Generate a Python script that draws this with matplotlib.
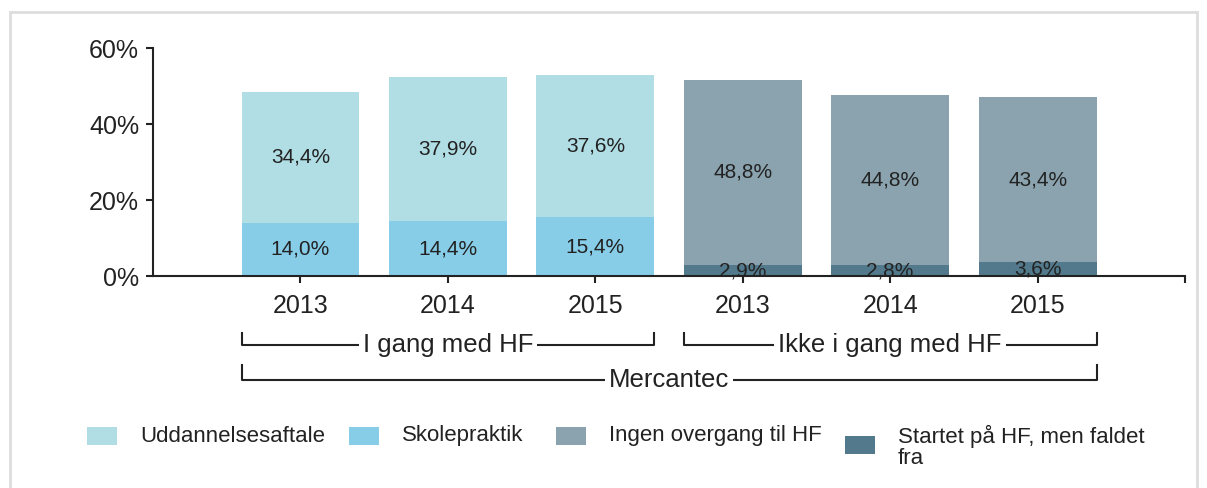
import numpy as np
import matplotlib
matplotlib.use('Agg')
import matplotlib.pyplot as plt
from matplotlib.patches import Rectangle
import matplotlib.transforms as mtransforms

plt.rcParams['font.family'] = ['Liberation Sans', 'DejaVu Sans']

years = ['2013', '2014', '2015', '2013', '2014', '2015']
groups = ['I gang med HF', 'Ikke i gang med HF']
total_label = 'Mercantec'

# segment values (%) per bar, bottom to top
skolepraktik = [14.0, 14.4, 15.4, 0, 0, 0]
uddannelse = [34.4, 37.9, 37.6, 0, 0, 0]
faldet_fra = [0, 0, 0, 2.9, 2.8, 3.6]
ingen = [0, 0, 0, 48.8, 44.8, 43.4]

series = [
    ('Uddannelsesaftale', uddannelse, '#B0DEE4'),
    ('Skolepraktik', skolepraktik, '#87CDE8'),
    ('Ingen overgang til HF', ingen, '#8AA3AE'),
    ('Startet på HF, men faldet\nfra', faldet_fra, '#527A8C'),
]

fig = plt.figure(figsize=(12.07, 4.88), dpi=100)
ax = fig.add_axes([0.1268, 0.4344, 0.855, 0.4672])

x = np.arange(len(years))
w = 0.8
# stacking order: Skolepraktik under Uddannelsesaftale, faldet under Ingen
stack = [(skolepraktik, '#87CDE8'), (uddannelse, '#B0DEE4'),
         (faldet_fra, '#527A8C'), (ingen, '#8AA3AE')]
bottom = np.zeros(len(years))
for vals, col in stack:
    vals = np.array(vals)
    ax.bar(x, vals, w, bottom=bottom, color=col, linewidth=0)
    for xi, v, b in zip(x, vals, bottom):
        if v > 0:
            ax.text(xi, b + v / 2, f'{v:.1f}%'.replace('.', ','),
                    ha='center', va='center', fontsize=15, color='#222222')
    bottom += vals

ax.set_xlim(-1, 6)
ax.set_ylim(0, 60)
ax.set_yticks([0, 20, 40, 60])
ax.set_yticklabels(['0%', '20%', '40%', '60%'], fontsize=18, color='#222222')
ax.set_xticks(x)
ax.set_xticks([6], minor=True)
ax.set_xticklabels(years, fontsize=18, color='#222222')
ax.tick_params(axis='both', which='both', direction='out', length=5, width=1.5,
               colors='#222222')
ax.tick_params(axis='x', pad=8)
ax.tick_params(axis='y', pad=5)
for s in ['top', 'right']:
    ax.spines[s].set_visible(False)
for s in ['left', 'bottom']:
    ax.spines[s].set_linewidth(1.5)
    ax.spines[s].set_color('#222222')

# group brackets
trans = mtransforms.blended_transform_factory(ax.transData, ax.transAxes)

def bracket(x0, x1, ytop, ybot, label, tx):
    ax.plot([x0, x0, x1, x1], [ytop, ybot, ybot, ytop], color='#222222',
            lw=1.5, transform=trans, clip_on=False)
    ax.text(tx, ybot, label, ha='center', va='center', fontsize=18.5,
            color='#222222', transform=trans,
            bbox=dict(facecolor='white', edgecolor='none', pad=3))

bracket(x[0] - w / 2, x[2] + w / 2, -0.25, -0.303, groups[0], x[1])
bracket(x[3] - w / 2, x[5] + w / 2, -0.25, -0.303, groups[1], x[4])
bracket(x[0] - w / 2, x[5] + w / 2, -0.39, -0.456, total_label, 2.5)

# legend drawn by hand
leg_x = [87, 349, 556, 845]
for (name, vals, col), lx in zip(series, leg_x):
    two = '\n' in name
    sy = 445 if two else 436
    fig.add_artist(Rectangle((lx / 1207, 1 - (sy + 9) / 488), 30 / 1207, 18 / 488,
                             transform=fig.transFigure, facecolor=col, edgecolor='none'))
    fig.text((lx + 53) / 1207, 1 - 436 / 488 if not two else 1 - 447 / 488, name,
             ha='left', va='center', fontsize=16, color='#222222', linespacing=1.05)

# outer border
fig.add_artist(Rectangle((10 / 1207, -0.05), 1187 / 1207, 1 - 12 / 488 + 0.05,
                         transform=fig.transFigure, fill=False,
                         edgecolor='#DDDDDD', lw=2))

fig.savefig('out.png', dpi=100)
